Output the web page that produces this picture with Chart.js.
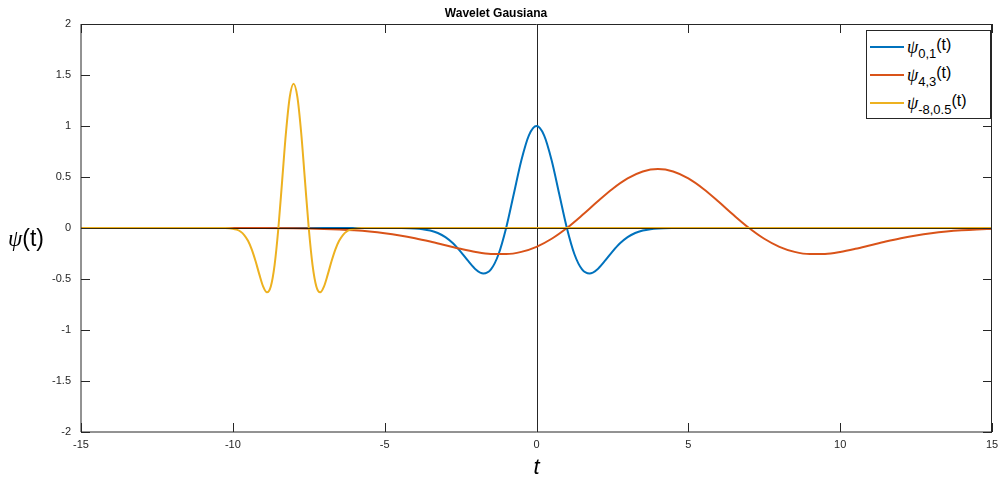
<!DOCTYPE html>
<html>
<head>
<meta charset="utf-8">
<script src="https://cdn.jsdelivr.net/npm/chart.js@4.4.1/dist/chart.umd.min.js"></script>
<style>
  html, body { margin: 0; padding: 0; background: #fff; }
  #wrap { position: relative; width: 1000px; height: 481px; }
  #ylab { position: absolute; left: 8px; top: 225px; font-family: "Liberation Sans", Arial, sans-serif; font-size: 23px; color: #000; line-height: 26px; white-space: nowrap; }
  .psi { font-family: "Liberation Serif", "DejaVu Serif", serif; font-style: italic; }
  #legend { position: absolute; left: 866px; top: 30px; width: 125px; height: 89px; border: 1px solid #262626; background: #fff; box-sizing: border-box; font-family: "Liberation Sans", Arial, sans-serif; color: #000; }
  .row { position: absolute; left: 2px; height: 28px; width: 120px; }
  .swatch { position: absolute; left: 1px; top: 13px; width: 34px; height: 2px; }
  .txt { position: absolute; left: 38px; top: 0px; font-size: 16px; line-height: 28px; white-space: nowrap; }
  .txt .psi { font-size: 18px; }
  .txt sub { font-size: 13px; position: relative; top: 5px; vertical-align: baseline; }
  .txt .arg { position: relative; top: -3px; }
</style>
</head>
<body>
<div id="wrap">
  <canvas id="c" width="1000" height="481"></canvas>
  <div id="ylab"><span class="psi">ψ</span>(t)</div>
  <div id="legend">
    <div class="row" style="top:2px"><div class="swatch" style="background:#0072BD"></div><div class="txt"><span class="psi">ψ</span><sub>0,1</sub><span class="arg">(t)</span></div></div>
    <div class="row" style="top:30px"><div class="swatch" style="background:#D95319"></div><div class="txt"><span class="psi">ψ</span><sub>4,3</sub><span class="arg">(t)</span></div></div>
    <div class="row" style="top:58px"><div class="swatch" style="background:#EDB120"></div><div class="txt"><span class="psi">ψ</span><sub>-8,0.5</sub><span class="arg">(t)</span></div></div>
  </div>
</div>
<script>
// ---- data ----
const xTicks = [-15, -10, -5, 0, 5, 10, 15];
const yTicks = [-2, -1.5, -1, -0.5, 0, 0.5, 1, 1.5, 2];

const blueT = [-15,-5,-4.5,-4,-3.75,-3.5,-3.25,-3,-2.75,-2.5,-2.25,-2,-1.75,-1.5,-1.25,-1,-0.75,-0.5,-0.25,0,0.25,0.5,0.75,1,1.25,1.5,1.75,2,2.25,2.5,2.75,3,3.25,3.5,3.75,4,4.5,5,15];
const blueV = [0,0,-0.0008,-0.0050,-0.0116,-0.0246,-0.0487,-0.0889,-0.1496,-0.2307,-0.3232,-0.4060,-0.4461,-0.4058,-0.2575,0,0.3302,0.6619,0.9087,1,0.9087,0.6619,0.3302,0,-0.2575,-0.4058,-0.4461,-0.4060,-0.3232,-0.2307,-0.1496,-0.0889,-0.0487,-0.0246,-0.0116,-0.0050,-0.0008,0,0];

const redT = [-15,-10,-9,-8,-7.5,-7,-6.5,-6,-5.5,-5,-4.5,-4,-3.5,-3,-2.5,-2,-1.5,-1,-0.5,0,0.5,1,1.5,2,2.5,3,3.5,4,4.5,5,5.5,6,6.5,7,7.5,8,8.5,9,9.5,10,10.5,11,11.5,12,12.5,13,13.5,14,14.5,15];
const redV = [0,-0.0002,-0.0009,-0.0029,-0.0051,-0.0086,-0.0142,-0.0226,-0.0346,-0.0513,-0.0733,-0.1008,-0.1332,-0.1686,-0.2040,-0.2344,-0.2539,-0.2559,-0.2343,-0.1846,-0.1056,0,0.1247,0.2568,0.3822,0.4855,0.5536,0.5774,0.5536,0.4855,0.3822,0.2568,0.1247,0,-0.1056,-0.1846,-0.2343,-0.2559,-0.2539,-0.2344,-0.2040,-0.1686,-0.1332,-0.1008,-0.0733,-0.0513,-0.0346,-0.0226,-0.0142,-0.0086];

const yellowT = [-15,-10.25,-10,-9.875,-9.75,-9.625,-9.5,-9.375,-9.25,-9.125,-9,-8.875,-8.75,-8.625,-8.5,-8.375,-8.25,-8.125,-8,-7.875,-7.75,-7.625,-7.5,-7.375,-7.25,-7.125,-7,-6.875,-6.75,-6.625,-6.5,-6.375,-6.25,-6.125,-6,-5.75,15];
const yellowV = [0,-0.0011,-0.0071,-0.0164,-0.0348,-0.0689,-0.1257,-0.2116,-0.3263,-0.4571,-0.5742,-0.6309,-0.5739,-0.3642,0,0.4670,0.9361,1.2851,1.4142,1.2851,0.9361,0.4670,0,-0.3642,-0.5739,-0.6309,-0.5742,-0.4571,-0.3263,-0.2116,-0.1257,-0.0689,-0.0348,-0.0164,-0.0071,-0.0011,0];

const pts = (t, v) => t.map((x, i) => ({ x: x, y: v[i] }));

const frame = {
  id: 'frame',
  beforeDatasetsDraw(chart) {
    const { ctx, chartArea: a, scales: { x } } = chart;
    const px = Math.round(x.getPixelForValue(0)) + 0.5;
    ctx.save();
    ctx.strokeStyle = '#262626';
    ctx.lineWidth = 1;
    ctx.beginPath();
    ctx.moveTo(px, a.top); ctx.lineTo(px, a.bottom);
    ctx.stroke();
    ctx.restore();
  },
  afterDatasetsDraw(chart) {
    const { ctx, chartArea: a, scales: { x, y } } = chart;
    ctx.save();
    // zero line
    const py = Math.round(y.getPixelForValue(0)) + 0.5;
    ctx.strokeStyle = 'rgba(0,0,0,0.75)';
    ctx.lineWidth = 1;
    ctx.beginPath();
    ctx.moveTo(a.left, py); ctx.lineTo(a.right, py);
    ctx.stroke();
    // box
    ctx.strokeStyle = '#262626';
    ctx.beginPath();
    ctx.moveTo(a.left, a.bottom); ctx.lineTo(a.right, a.bottom);
    ctx.moveTo(a.left, a.top); ctx.lineTo(a.left, a.bottom);
    ctx.stroke();
    ctx.beginPath();
    ctx.moveTo(a.left, a.top + 0.5); ctx.lineTo(a.right, a.top + 0.5);
    ctx.moveTo(a.right - 0.5, a.top); ctx.lineTo(a.right - 0.5, a.bottom);
    ctx.stroke();
    // inward ticks
    const L = 9;
    ctx.beginPath();
    xTicks.forEach(v => {
      const p = Math.round(x.getPixelForValue(v)) + 0.5;
      ctx.moveTo(p, a.bottom); ctx.lineTo(p, a.bottom - L);
      ctx.moveTo(p, a.top); ctx.lineTo(p, a.top + L);
    });
    yTicks.forEach(v => {
      const p = Math.round(y.getPixelForValue(v)) + 0.5;
      ctx.moveTo(a.left, p); ctx.lineTo(a.left + L, p);
      ctx.moveTo(a.right, p); ctx.lineTo(a.right - L, p);
    });
    ctx.stroke();
    ctx.restore();
  }
};

const tickFont = { family: '"Liberation Sans", Arial, sans-serif', size: 11 };

new Chart(document.getElementById('c'), {
  type: 'line',
  data: {
    datasets: [
      { label: 'ψ0,1(t)', data: pts(blueT, blueV), borderColor: '#0072BD', order: 3 },
      { label: 'ψ4,3(t)', data: pts(redT, redV), borderColor: '#D95319', order: 2 },
      { label: 'ψ-8,0.5(t)', data: pts(yellowT, yellowV), borderColor: '#EDB120', order: 1 }
    ]
  },
  options: {
    responsive: false,
    animation: false,
    devicePixelRatio: 1,
    layout: { padding: { left: 0, right: 8, top: 0, bottom: 0 } },
    elements: {
      point: { radius: 0, hoverRadius: 0 },
      line: { borderWidth: 2, cubicInterpolationMode: 'monotone', fill: false }
    },
    plugins: {
      legend: { display: false },
      tooltip: { enabled: false },
      title: {
        display: true,
        text: 'Wavelet Gausiana',
        color: '#000',
        font: { family: '"Liberation Sans", Arial, sans-serif', size: 12, weight: 'bold' },
        padding: { top: 6, bottom: 3.6 }
      }
    },
    scales: {
      x: {
        type: 'linear', min: -15, max: 15,
        afterBuildTicks: s => { s.ticks = xTicks.map(v => ({ value: v })); },
        afterFit: s => { s.height = 49; s.paddingLeft = 0; s.paddingRight = 0; },
        grid: { display: false, drawTicks: false },
        border: { display: false },
        ticks: { font: tickFont, color: '#262626', padding: 6, maxRotation: 0, autoSkip: false, callback: v => String(v) },
        title: {
          display: true, text: 't', color: '#000',
          font: { family: '"Liberation Sans", Arial, sans-serif', size: 22, style: 'italic' },
          padding: { top: 0, bottom: 0 }
        }
      },
      y: {
        type: 'linear', min: -2, max: 2,
        afterBuildTicks: s => { s.ticks = yTicks.map(v => ({ value: v })); },
        afterFit: s => { s.width = 81; s.paddingTop = 0; s.paddingBottom = 0; },
        grid: { display: false, drawTicks: false },
        border: { display: false },
        ticks: { font: tickFont, color: '#262626', padding: 10, autoSkip: false, callback: v => String(v) }
      }
    }
  },
  plugins: [frame]
});
</script>
</body>
</html>
